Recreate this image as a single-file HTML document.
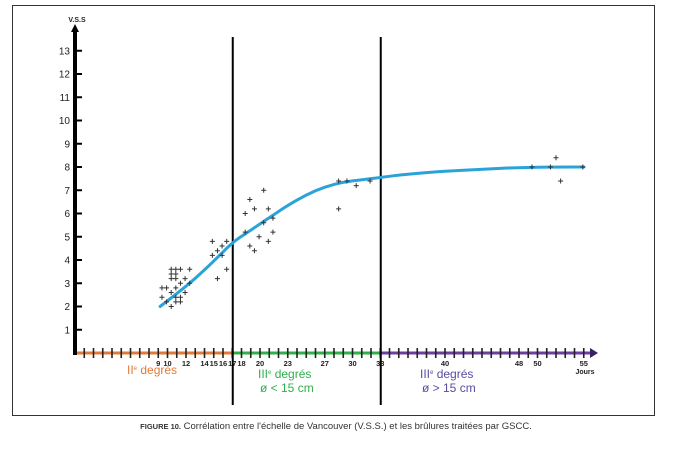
<!DOCTYPE html>
<html><head><meta charset="utf-8"><style>
body{margin:0;background:#fff;width:677px;height:463px;overflow:hidden;font-family:"Liberation Sans",sans-serif}
</style></head><body>
<svg id="c" width="677" height="463" xmlns="http://www.w3.org/2000/svg">
<rect x="12.5" y="5.5" width="642" height="410" fill="none" stroke="#333" stroke-width="1"/>
<g id="g"></g>
<text x="336" y="429" text-anchor="middle" font-size="9.5" fill="#333"><tspan font-size="7.5" font-weight="bold">FIGURE 10.</tspan>  Corrélation entre l'échelle de Vancouver (V.S.S.) et les brûlures traitées par GSCC.</text>
</svg>
<script>
const dayTicks=[9,10,12,14,15,16,17,18,20,23,27,30,33,40,48,50,55];
const yTicks=[1,2,3,4,5,6,7,8,9,10,11,12,13];
const ptDays=[9.4,9.9,9.4,9.9,10.4,10.4,10.4,10.9,10.9,10.9,11.4,12.4,10.4,10.9,10.4,10.9,11.4,10.9,11.4,11.4,11.9,11.9,12.4,
14.85,16.4,14.85,15.4,15.9,15.9,15.4,16.4,
18.4,18.9,19.4,20.4,20.9,18.4,20.4,21.4,19.9,18.9,19.4,20.9,21.4,
28.5,29.4,30.4,31.9,28.5,49.4,51.4,52,52.5,54.9];
const ptVals=[2.8,2.8,2.4,2.2,3.6,3.4,3.2,3.6,3.4,3.2,3.6,3.6,2.6,2.8,2.0,2.4,2.4,2.2,2.2,3.0,3.2,2.6,3.0,
4.8,4.8,4.2,4.4,4.6,4.2,3.2,3.6,
6.0,6.6,6.2,7.0,6.2,5.2,5.6,5.8,5.0,4.6,4.4,4.8,5.2,
7.4,7.4,7.2,7.4,6.2,8.0,8.0,8.4,7.4,8.0];
const curveDays=[9.2,11,13,15,17,18.5,20,21.5,23,25,27,29,31,33,36,40,44,48,52,55];
const curveVals=[2.0,2.55,3.2,3.95,4.75,5.15,5.55,5.95,6.35,6.8,7.15,7.35,7.45,7.55,7.7,7.82,7.9,7.98,8.0,8.0];
const zones=[{s:0,e:17,c:"#e07a3c",n:"zone-2nd-degree"},{s:17,e:33,c:"#2fb04a",n:"zone-3rd-small"},{s:33,e:56,c:"#6a3fa0",n:"zone-3rd-large"}];
const X=d=>75+9.25*d, Y=v=>353-23.25*v;
const g=document.getElementById('g'),NS="http://www.w3.org/2000/svg";
function mk(t,a,txt){const e=document.createElementNS(NS,t);for(const k in a)e.setAttribute(k,a[k]);if(txt!=null)e.textContent=txt;g.appendChild(e);return e;}
zones.forEach(z=>{const e=mk('line',{x1:X(z.s),x2:Math.min(X(z.e),592),y1:353,y2:353,stroke:z.c,'stroke-width':3});

});
for(let d=1;d<=55;d++){const e=mk('line',{x1:X(d),x2:X(d),y1:348,y2:358,stroke:'#222','stroke-width':1.6});

}
let ah=mk('path',{d:'M590 348 L598 353 L590 358 Z',fill:'#3a2060'});


dayTicks.forEach(d=>{const e=mk('text',{x:X(d),y:366,'text-anchor':'middle','font-size':7.5,'font-weight':'bold',fill:'#222'},d);

});
let jl=mk('text',{x:585,y:374,'text-anchor':'middle','font-size':7,'font-weight':'bold',fill:'#222'},'Jours');


let ya=mk('line',{x1:75,x2:75,y1:355,y2:30,stroke:'#000','stroke-width':4});


let ya2=mk('path',{d:'M71 32 L75 24 L79 32 Z',fill:'#000'});


let yt=mk('text',{x:77,y:22,'text-anchor':'middle','font-size':7,'font-weight':'bold',fill:'#222'},'V.S.S');


yTicks.forEach(v=>{const l=mk('line',{x1:75,x2:82,y1:Y(v),y2:Y(v),stroke:'#000','stroke-width':2});


const t=mk('text',{x:70,y:Y(v)+3.5,'text-anchor':'end','font-size':10,fill:'#222'},v);

});
[[17,37],[33,37]].forEach(([d,t])=>{const e=mk('line',{x1:X(d)+0.5,x2:X(d)+0.5,y1:t,y2:405,stroke:'#000','stroke-width':2});

});
let cp='';const pts=curveDays.map((d,i)=>[X(d),Y(curveVals[i])]);
cp='M'+pts[0][0].toFixed(1)+' '+pts[0][1].toFixed(1);
for(let i=1;i<pts.length-1;i++){const mx=(pts[i][0]+pts[i+1][0])/2,my=(pts[i][1]+pts[i+1][1])/2;cp+=` Q${pts[i][0].toFixed(1)} ${pts[i][1].toFixed(1)} ${mx.toFixed(1)} ${my.toFixed(1)}`;}
const lp=pts[pts.length-1];cp+=` L${lp[0].toFixed(1)} ${lp[1].toFixed(1)}`;
let cv=mk('path',{d:cp,fill:'none',stroke:'#2aa3d8','stroke-width':3,'stroke-linejoin':'round','stroke-linecap':'round'});


ptDays.forEach((d,i)=>{const x=X(d),y=Y(ptVals[i]);const e=mk('path',{d:`M${x-2.5} ${y} H${x+2.5} M${x} ${y-2.5} V${y+2.5}`,stroke:'#333','stroke-width':1});

});
[[127,374,'#e07a3c','II','label-2nd-degree'],[258,378,'#2fb04a','III','label-3rd-small'],[420,378,'#5a4aa0','III','label-3rd-large']].forEach(([x,y,c,r,n])=>{
const t=mk('text',{x:x,y:y,'font-size':12,fill:c});t.innerHTML=r+'<tspan font-size="6" dy="-4">e</tspan><tspan dy="4"> degrés</tspan>';

});
let s1=mk('text',{x:260,y:392,'font-size':12,fill:'#2fb04a'},'ø < 15 cm');


let s2=mk('text',{x:422,y:392,'font-size':12,fill:'#5a4aa0'},'ø > 15 cm');


</script>
</body></html>
